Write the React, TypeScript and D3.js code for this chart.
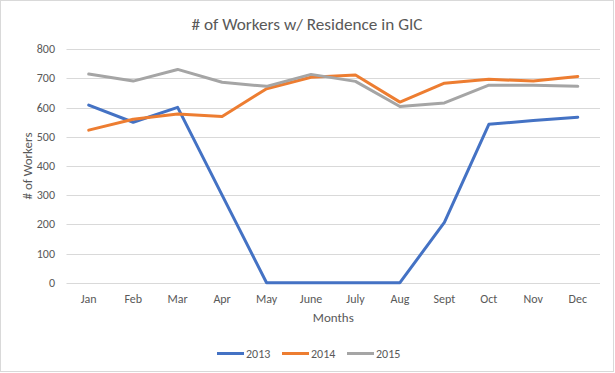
import React from "react";
import * as d3 from "d3";

const months = ["Jan", "Feb", "Mar", "Apr", "May", "June", "July", "Aug", "Sept", "Oct", "Nov", "Dec"];
const series2013 = [609, 550, 601, 300, 0, 0, 0, 0, 207, 543, 556, 567];
const series2014 = [523, 560, 578, 570, 665, 704, 712, 619, 684, 697, 691, 707];
const series2015 = [715, 691, 731, 687, 673, 714, 690, 604, 616, 677, 677, 673];
const yTicks = [0, 100, 200, 300, 400, 500, 600, 700, 800];
const seriesNames = ["2013", "2014", "2015"];
const colors = ["#4472C4", "#ED7D31", "#A5A5A5"];

const W = 615, H = 373;
const left = 66.5, right = 600, top = 49.3, bottom = 282.7;
const font = "Carlito, Calibri, Lato, 'Open Sans', sans-serif";
const textColor = "#595959";

export default function App() {
  const x = d3.scaleBand<string>().domain(months).range([left, right]);
  const y = d3.scaleLinear().domain([0, 800]).range([bottom, top]);
  const line = d3.line<number>()
    .x((_, i) => (x(months[i]) as number) + x.bandwidth() / 2)
    .y((d) => y(d));
  const all = [series2013, series2014, series2015];
  const legendX = [217, 282, 347];
  return (
    <div style={{ position: "fixed", left: 0, top: 0 }}>
      <svg width={W} height={H} style={{ display: "block", background: "#fff" }}>
        <rect x={0.5} y={0.5} width={613} height={371} fill="#fff" stroke="#d9d9d9" />
        <text x={307} y={30} textAnchor="middle" fontFamily={font} fontSize={17.2} fill={textColor}>
          # of Workers w/ Residence in GIC
        </text>
        {yTicks.map((t) => (
          <g key={t}>
            <line x1={left} x2={right} y1={Math.round(y(t)) + 0.5} y2={Math.round(y(t)) + 0.5} stroke="#d9d9d9" strokeWidth={1} />
            <text x={55} y={y(t) + 4} textAnchor="end" fontFamily={font} fontSize={12} fill={textColor}>{t}</text>
          </g>
        ))}
        {months.map((m) => (
          <text key={m} x={(x(m) as number) + x.bandwidth() / 2} y={302.5} textAnchor="middle" fontFamily={font} fontSize={12} fill={textColor}>{m}</text>
        ))}
        <text x={(left + right) / 2} y={322} textAnchor="middle" fontFamily={font} fontSize={13} fill={textColor}>Months</text>
        <text transform={`translate(32, ${(top + bottom) / 2}) rotate(-90)`} textAnchor="middle" fontFamily={font} fontSize={13} fill={textColor}># of Workers</text>
        {all.map((s, i) => (
          <path key={i} d={line(s) || ""} fill="none" stroke={colors[i]} strokeWidth={3} strokeLinejoin="round" strokeLinecap="round" />
        ))}
        {seriesNames.map((n, i) => (
          <g key={n}>
            <line x1={legendX[i]} x2={legendX[i] + 27} y1={353.5} y2={353.5} stroke={colors[i]} strokeWidth={3} />
            <text x={legendX[i] + 29} y={357.5} fontFamily={font} fontSize={12} fill={textColor}>{n}</text>
          </g>
        ))}
      </svg>
    </div>
  );
}
